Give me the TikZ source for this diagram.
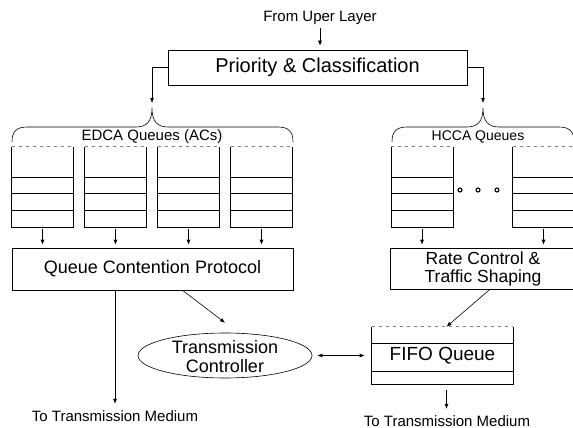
\documentclass[tikz,border=0pt]{standalone}
\usepackage{fontspec}
\setmainfont{Liberation Sans}
\usetikzlibrary{positioning,arrows.meta,shapes.geometric}

\begin{document}
\begin{tikzpicture}[x=1pt, y=-1pt, line width=0.6pt,
    box/.style={draw, rectangle, inner sep=0pt},
    queue/.style={rectangle, inner sep=0pt, minimum width=61pt, minimum height=80pt},
    lbl/.style={font=\fontsize{15}{18}\selectfont},
    arr/.style={-{Latex[length=5pt,width=4pt]}},
    qtop/.style={dash pattern=on 3pt off 4pt, gray}]

            \useasboundingbox (0,0) rectangle (573,428);

            %Nodes
            \node[lbl] at (320,18) (from) {From Uper Layer};
            \node[box, minimum width=299pt, minimum height=35pt, font=\fontsize{20}{24}\selectfont] at (317.5,67.5) (pc) {Priority \& Classification};
            \coordinate (edcatip) at (152,108);
            \coordinate (hccatip) at (483,108);
            \node[lbl] at (152,137) (edca) {EDCA Queues (ACs)};
            \node[font=\fontsize{14}{17}\selectfont] at (478,137) (hcca) {HCCA Queues};
            \foreach \x [count=\i] in {42.5,115.5,188.5,261.5}
                \node[queue] at (\x,187) (e\i) {};
            \node[queue] at (422,187) (h1) {};
            \node[queue] at (543.5,187) (h2) {};
            \node[box, minimum width=281pt, minimum height=42pt, font=\fontsize{18}{22}\selectfont] at (152.5,269) (qcp) {Queue Contention Protocol};
            \node[box, minimum width=186pt, minimum height=41pt, align=center, font=\fontsize{17.5}{18}\selectfont] at (483,268.5) (rate) {Rate Control \&\\Traffic Shaping};
            \node[ellipse, draw, minimum width=174pt, minimum height=45pt] at (225,355.5) (tc) {};
            \node[align=center, font=\fontsize{18}{19}\selectfont] at (225,356.5) (tctext) {Transmission\\Controller};
            \node[rectangle, inner sep=0pt, minimum width=141pt, minimum height=57pt, font=\fontsize{19}{22}\selectfont] at (442.5,355.5) (fifo) {FIFO Queue};
            \node[lbl] at (115,416) (out1) {To Transmission Medium};
            \node[lbl] at (447,421) (out2) {To Transmission Medium};

            %Braces
            \draw (12,142) .. controls (12,132) and (16,127) .. (27,127) -- (136,127) .. controls (147,127) and (152,121) .. (edcatip) .. controls (152,121) and (157,127) .. (168,127) -- (278,127) .. controls (289,127) and (293,132) .. (293,142);
            \draw (392,142) .. controls (392,132) and (396,127) .. (407,127) -- (467,127) .. controls (478,127) and (483,121) .. (hccatip) .. controls (483,121) and (488,127) .. (499,127) -- (559,127) .. controls (570,127) and (574,132) .. (574,142);

            %Queues
            \foreach \q in {e1,e2,e3,e4,h1,h2,fifo} {
                \draw (\q.north west) -- (\q.south west) -- (\q.south east) -- (\q.north east);
                \draw[qtop] (\q.north west) -- (\q.north east);
            }
            \foreach \q in {e1,e2,e3,e4,h1,h2}
                \foreach \d in {17,34,50}
                    \draw ([yshift=\d pt]\q.south west) -- ([yshift=\d pt]\q.south east);
            \draw ([yshift=13pt]fifo.south west) -- ([yshift=13pt]fifo.south east);
            \draw ([yshift=41pt]fifo.south west) -- ([yshift=41pt]fifo.south east);
            \foreach \x in {460,478,497}
                \draw[line width=1.1pt] (\x,190) circle (2pt);

            %Lines
            \draw[arr, shorten >=4pt] (from.south) -- (from.south |- pc.north);
            \draw[arr] (pc.west) -| ([yshift=5pt]edcatip);
            \draw[arr] (pc.east) -| ([yshift=5pt]hccatip);
            \foreach \q in {e1,e2,e3,e4}
                \draw[arr, shorten <=2pt, shorten >=3pt] (\q.south) -- (\q.south |- qcp.north);
            \foreach \q in {h1,h2}
                \draw[arr, shorten <=2pt, shorten >=3pt] (\q.south) -- (\q.south |- rate.north);
            \draw[arr, shorten >=3pt] (qcp.south -| out1) -- (out1.north);
            \draw[arr] ([xshift=30pt]qcp.south) -- ([yshift=10pt]tc.north);
            \draw[arr] ([xshift=7pt]rate.south) -- ([xshift=4pt]fifo.north);
            \draw[{Latex[length=5pt,width=4pt]}-{Latex[length=5pt,width=4pt]}, shorten <=5pt, shorten >=7pt] (tc.east) -- (tc.east -| fifo.west);
            \draw[arr, shorten <=6pt, shorten >=3pt] ([xshift=4pt]fifo.south) -- ([xshift=4pt]fifo.south |- out2.north);
\end{tikzpicture}
\end{document}
